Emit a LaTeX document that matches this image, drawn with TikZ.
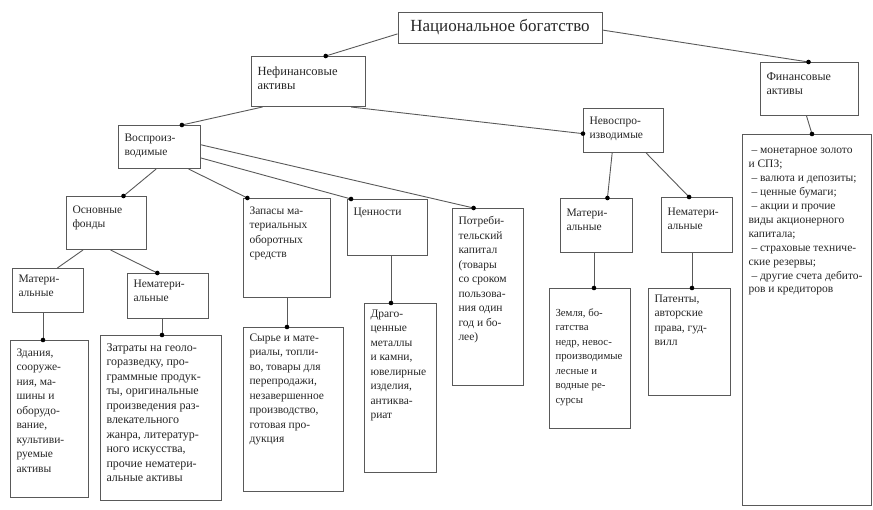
\documentclass[tikz,border=0pt]{standalone}
\usepackage{fontspec}
\setmainfont{Liberation Serif}
\usetikzlibrary{calc}
\tikzset{
  bx/.style={draw=black!65, line width=1pt, fill=white, inner xsep=6pt, inner ysep=6pt, anchor=north west, font=\fontsize{11.5}{14.5}\selectfont, text=black!85},
  cn/.style={draw=black!65, line width=0.9pt},
  dt/.style={circle, fill=black, inner sep=0pt, minimum size=4.6pt}
}
\newcommand\mybox[6]{%
  \pgfmathsetmacro\bw{#4-#2-12}\pgfmathsetmacro\bh{#5-#3-12}%
  \node[bx] (#1) at (#2,#3) {\parbox[c][\bh pt][t]{\bw pt}{\raggedright #6}};}
\newcommand\fline[1]{\mbox{#1}}
\begin{document}
\begin{tikzpicture}[x=1pt,y=-1pt]
\useasboundingbox (0,0) rectangle (873,509);
% top
\node[bx, anchor=center, minimum width=204pt, minimum height=31pt, font=\fontsize{17}{20}\selectfont] (nb) at (500,27.5) {Национальное богатство};
\mybox{nfa}{251}{56}{365}{106}{\fontsize{12.5}{14.5}\selectfont\vspace{4pt}Нефинансовые\\активы}
\mybox{fa}{760}{62}{858}{115}{\fontsize{12}{14.5}\selectfont\vspace{4pt}Финансовые\\активы}
\mybox{fl}{742}{134}{871}{505}{\vspace{8pt}\fontsize{11.5}{13.9}\selectfont\fline{\hspace*{3pt}– монетарное золото}\\\fline{и СПЗ;}\\\fline{\hspace*{3pt}– валюта и депозиты;}\\\fline{\hspace*{3pt}– ценные бумаги;}\\\fline{\hspace*{3pt}– акции и прочие}\\\fline{виды акционерного}\\\fline{капитала;}\\\fline{\hspace*{3pt}– страховые техниче-}\\\fline{ские резервы;}\\\fline{\hspace*{3pt}– другие счета дебито-}\\\fline{ров и кредиторов}}
\mybox{vos}{118}{125}{200}{168}{\vspace{2pt}Воспроиз-\\водимые}
\mybox{nev}{583}{108}{663}{152}{\vspace{2pt}Невоспро-\\изводимые}
\mybox{of}{66}{196}{146}{249}{\vspace{3pt}Основные\\фонды}
\mybox{mat1}{12}{268}{83}{312}{Матери-\\альные}
\mybox{nem1}{127}{273}{208}{318}{Нематери-\\альные}
\mybox{zap}{243}{198}{330}{297}{\vspace{2pt}Запасы ма-\\териальных\\оборотных\\средств}
\mybox{cen}{347}{199}{427}{255}{\vspace{2pt}Ценности}
\mybox{pot}{452}{208}{523}{385}{\vspace{2pt}Потреби-\\тельский\\капитал\\(товары\\со сроком\\пользова-\\ния один\\год и бо-\\лее)}
\mybox{mat2}{560}{198}{632}{252}{\vspace{4pt}Матери-\\альные}
\mybox{nem2}{661}{197}{732}{252}{\vspace{4pt}Нематери-\\альные}
\mybox{zem}{549}{288}{630}{428}{\fontsize{10.8}{14.5}\selectfont\vspace{14pt}Земля, бо-\\гатства\\недр, невос-\\производимые\\лесные и\\водные ре-\\сурсы}
\mybox{pat}{648}{288}{730}{395}{Патенты,\\авторские\\права, гуд-\\вилл}
\mybox{zd}{10}{340}{88}{497}{\vspace{2pt}Здания,\\сооруже-\\ния, ма-\\шины и\\оборудо-\\вание,\\культиви-\\руемые\\активы}
\mybox{zat}{100}{335}{221}{500}{\fontsize{12}{14.5}\selectfont\vspace{2pt}Затраты на геоло-\\горазведку, про-\\граммные продук-\\ты, оригинальные\\произведения раз-\\влекательного\\жанра, литератур-\\ного искусства,\\прочие нематери-\\альные активы}
\mybox{syr}{243}{327}{343}{491}{Сырье и мате-\\риалы, топли-\\во, товары для\\перепродажи,\\незавершенное\\производство,\\готовая про-\\дукция}
\mybox{drag}{364}{303}{436}{472}{Драго-\\ценные\\металлы\\и камни,\\ювелирные\\изделия,\\антиква-\\риат}
% connector targets
\coordinate (tnfa) at ($(nfa.north west)!0.65!(nfa.north east)$);
\coordinate (tfa) at ($(fa.north west)!0.49!(fa.north east)$);
\coordinate (tvos) at ($(vos.north west)!0.77!(vos.north east)$);
\coordinate (tnev) at ($(nev.north west)!0.57!(nev.south west)$);
\coordinate (tof) at ($(of.north west)!0.71!(of.north east)$);
\coordinate (tzap) at ($(zap.north west)!0.05!(zap.north east)$);
\coordinate (tcen) at ($(cen.north west)!0.05!(cen.north east)$);
\coordinate (tpot) at ($(pot.north west)!0.3!(pot.north east)$);
\coordinate (tmat1) at ($(mat1.north west)!0.63!(mat1.north east)$);
\coordinate (tnem1) at ($(nem1.north west)!0.37!(nem1.north east)$);
\coordinate (tzd) at ($(zd.north west)+(33,0)$);
\coordinate (tzat) at ($(zat.north west)+(62,0)$);
\coordinate (tsyr) at ($(syr.north west)+(44,0)$);
\coordinate (tdrag) at ($(drag.north west)+(27,0)$);
\coordinate (tmat2) at ($(mat2.north west)!0.65!(mat2.north east)$);
\coordinate (tnem2) at ($(nem2.north west)!0.39!(nem2.north east)$);
\coordinate (tzem) at ($(zem.north west)+(45,0)$);
\coordinate (tpat) at ($(pat.north west)+(44,0)$);
\coordinate (tfl) at ($(fl.north west)+(70,0)$);
% connectors
\draw[cn] ($(nb.north west)!0.7!(nb.south west)$) -- (tnfa);
\draw[cn] ($(nb.north east)!0.58!(nb.south east)$) -- (tfa);
\draw[cn] ($(nfa.south west)!0.1!(nfa.south east)$) -- (tvos);
\draw[cn] ($(nfa.south west)!0.87!(nfa.south east)$) -- (tnev);
\draw[cn] ($(vos.south west)!0.46!(vos.south east)$) -- (tof);
\draw[cn] ($(vos.south west)!0.85!(vos.south east)$) -- (tzap);
\draw[cn] ($(vos.north east)!0.75!(vos.south east)$) -- (tcen);
\draw[cn] ($(vos.north east)!0.45!(vos.south east)$) -- (tpot);
\draw[cn] ($(of.south west)!0.21!(of.south east)$) -- (tmat1);
\draw[cn] ($(of.south west)!0.55!(of.south east)$) -- (tnem1);
\draw[cn] (tzd |- mat1.south) -- (tzd);
\draw[cn] (tzat |- nem1.south) -- (tzat);
\draw[cn] (tsyr |- zap.south) -- (tsyr);
\draw[cn] (tdrag |- cen.south) -- (tdrag);
\draw[cn] ($(nev.south west)!0.36!(nev.south east)$) -- (tmat2);
\draw[cn] ($(nev.south west)!0.78!(nev.south east)$) -- (tnem2);
\draw[cn] (tzem |- mat2.south) -- (tzem);
\draw[cn] (tpat |- nem2.south) -- (tpat);
\draw[cn] ($(fa.south west)!0.47!(fa.south east)$) -- (tfl);
% dots
\foreach \p in {tnfa,tfa,tvos,tnev,tof,tzap,tcen,tpot,tnem1,tzd,tzat,tsyr,tdrag,tmat2,tnem2,tzem,tpat,tfl}
  \node[dt] at (\p) {};
\end{tikzpicture}
\end{document}
